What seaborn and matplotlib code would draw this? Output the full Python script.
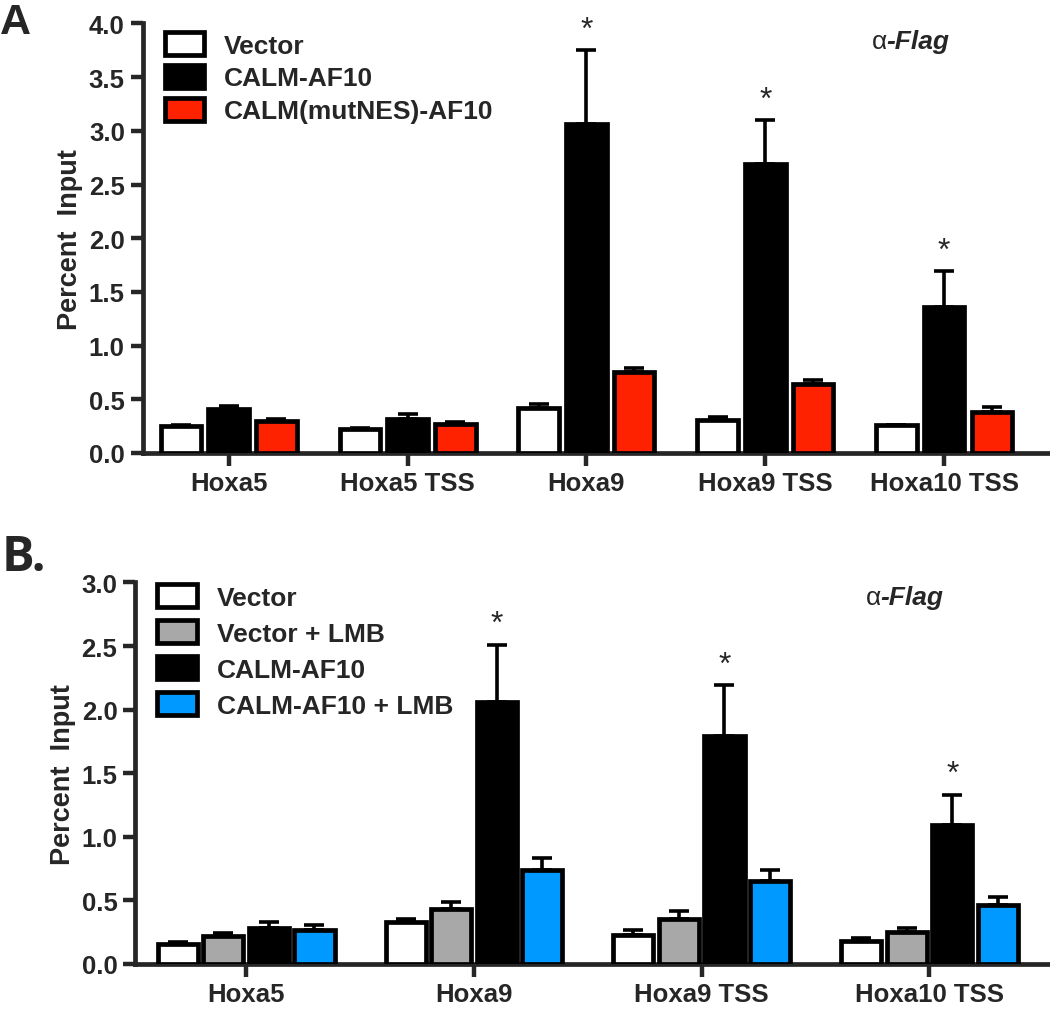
import numpy as np
import pandas as pd
import matplotlib
matplotlib.use("Agg")
import matplotlib.pyplot as plt
import seaborn as sns

# Panel A data
genes_a = ["Hoxa5", "Hoxa5 TSS", "Hoxa9", "Hoxa9 TSS", "Hoxa10 TSS"]
groups_a = ["Vector", "CALM-AF10", "CALM(mutNES)-AF10"]
mean_a = {
    "Vector": [0.25, 0.22, 0.42, 0.31, 0.26],
    "CALM-AF10": [0.41, 0.32, 3.06, 2.69, 1.36],
    "CALM(mutNES)-AF10": [0.30, 0.27, 0.75, 0.64, 0.38],
}
err_a = {
    "Vector": [0.01, 0.01, 0.04, 0.02, 0.0],
    "CALM-AF10": [0.03, 0.04, 0.69, 0.41, 0.33],
    "CALM(mutNES)-AF10": [0.02, 0.02, 0.04, 0.04, 0.05],
}
stars_a = [2, 3, 4]

# Panel B data
genes_b = ["Hoxa5", "Hoxa9", "Hoxa9 TSS", "Hoxa10 TSS"]
groups_b = ["Vector", "Vector + LMB", "CALM-AF10", "CALM-AF10 + LMB"]
mean_b = {
    "Vector": [0.16, 0.33, 0.23, 0.18],
    "Vector + LMB": [0.22, 0.43, 0.35, 0.25],
    "CALM-AF10": [0.28, 2.06, 1.79, 1.09],
    "CALM-AF10 + LMB": [0.27, 0.74, 0.65, 0.46],
}
err_b = {
    "Vector": [0.01, 0.02, 0.04, 0.02],
    "Vector + LMB": [0.02, 0.06, 0.07, 0.03],
    "CALM-AF10": [0.05, 0.45, 0.40, 0.24],
    "CALM-AF10 + LMB": [0.04, 0.09, 0.09, 0.07],
}
stars_b = [1, 2, 3]

colors_a = ["#FFFFFF", "#000000", "#FF2200"]
colors_b = ["#FFFFFF", "#A8A8A8", "#000000", "#0099FF"]

sns.set_style("ticks")
plt.rcParams["font.family"] = ["Liberation Sans", "DejaVu Sans"]
plt.rcParams["font.weight"] = "bold"

fig = plt.figure(figsize=(10.5, 10.2), dpi=100)
ax_a = fig.add_axes([0.136, 0.555, 0.862, 0.421])
ax_b = fig.add_axes([0.129, 0.054, 0.869, 0.374])


def draw_panel(ax, genes, groups, means, errs, colors, stars, ymax, gap, xlim,
               leg_spacing, leg_top):
    df = pd.DataFrame(
        [(g, grp, means[grp][i], errs[grp][i]) for grp in groups for i, g in enumerate(genes)],
        columns=["gene", "group", "value", "err"],
    )
    sns.barplot(data=df, x="gene", y="value", hue="group", order=genes, hue_order=groups,
                palette=colors, errorbar=None, width=0.8, gap=gap, edgecolor="black",
                linewidth=3.4, saturation=1, ax=ax, zorder=3)
    # error bars (upper only) at the bar centers
    bars = ax.patches[: len(df)]
    xs = [p.get_x() + p.get_width() / 2 for p in bars]
    tops = [p.get_height() for p in bars]
    ax.errorbar(xs, tops, yerr=[np.zeros(len(df)), df["err"].values], fmt="none",
                ecolor="black", elinewidth=2.6, capsize=7.5, capthick=2.6, zorder=2)
    # significance stars above CALM-AF10 bars
    k = groups.index("CALM-AF10")
    for i in stars:
        j = k * len(genes) + i
        ax.annotate("*", (xs[j], tops[j] + df["err"].values[j]), xytext=(0, 4),
                    textcoords="offset points", ha="center", va="bottom",
                    fontsize=23, fontweight="normal")
    ax.set_ylim(0, ymax)
    ax.set_xlim(*xlim)
    ticks = np.arange(0, ymax + 0.01, 0.5)
    ax.set_yticks(ticks)
    ax.set_yticklabels([f"{v:.1f}" for v in ticks])
    ax.set_xlabel("")
    ax.set_ylabel("Percent  Input", fontsize=19.5, fontweight="bold", labelpad=4)
    for s in ["top", "right"]:
        ax.spines[s].set_visible(False)
    for s in ["left", "bottom"]:
        ax.spines[s].set_linewidth(3.4)
    ax.tick_params(axis="both", width=3.2, length=9, labelsize=18.5, pad=4)
    for lbl in ax.get_xticklabels() + ax.get_yticklabels():
        lbl.set_fontweight("bold")
    leg = ax.legend(loc="upper left", bbox_to_anchor=(0.024, leg_top), frameon=False,
                    fontsize=19, handlelength=1.5, handleheight=0.95,
                    handletextpad=0.75, labelspacing=leg_spacing, borderpad=0,
                    borderaxespad=0)
    for t in leg.get_texts():
        t.set_fontweight("bold")
    for h in leg.legend_handles:
        h.set_linewidth(3.4)
        h.set_edgecolor("black")
    return ax


draw_panel(ax_a, genes_a, groups_a, mean_a, err_a, colors_a, stars_a, 4.0, 0.15,
           (-0.48, 4.58), 0.28, 0.98)
draw_panel(ax_b, genes_b, groups_b, mean_b, err_b, colors_b, stars_b, 3.0, 0.12,
           (-0.486, 3.52), 0.4, 0.995)

# antibody label
for ax, (x, y) in [(ax_a, (0.805, 0.96)), (ax_b, (0.800, 0.963))]:
    t1 = ax.text(x, y, "α", transform=ax.transAxes, fontsize=19, fontweight="normal",
                 ha="left", va="center")
    ax.annotate("-Flag", xy=(1, 0), xycoords=t1, va="bottom", ha="left",
                fontsize=19, fontweight="bold", fontstyle="italic")

# panel letters
fig.text(0.0, 0.997, "A", fontsize=31, fontweight="bold", ha="left", va="top")
fig.text(0.002, 0.476, "B.", fontsize=35, fontweight="bold", ha="left", va="top",
         family=["Open Sans", "DejaVu Sans"])

fig.savefig("out.png", dpi=100)
